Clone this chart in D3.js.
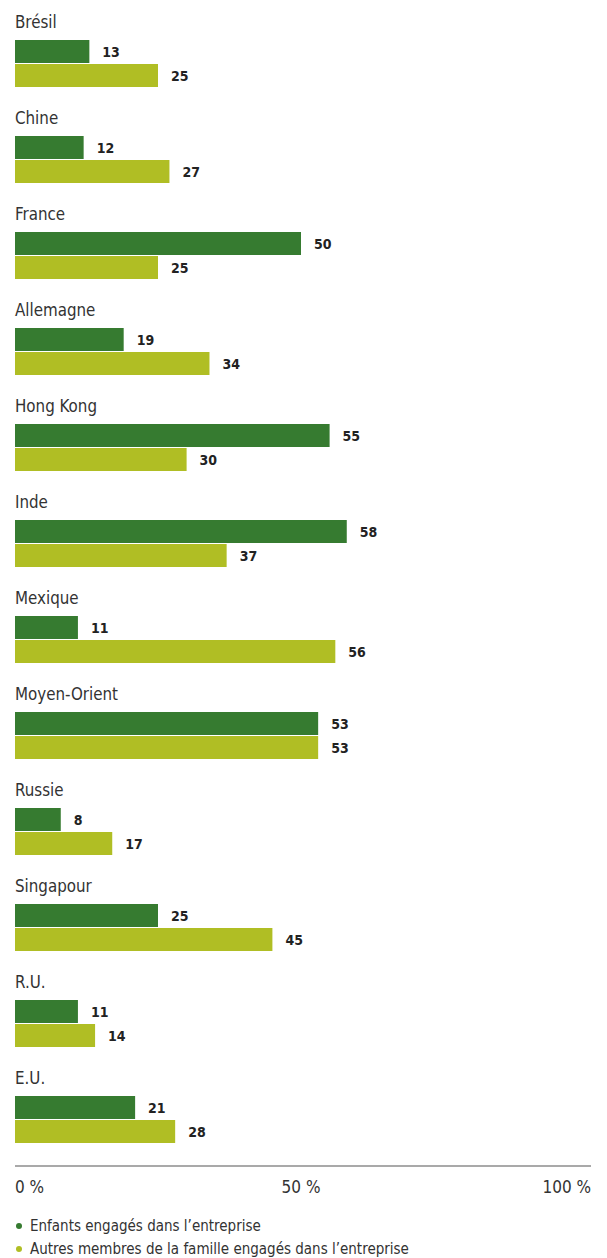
<!DOCTYPE html>
<html>
<head>
<meta charset="utf-8">
<script src="https://cdn.jsdelivr.net/npm/d3@7"></script>
<style>
  body { margin: 0; background: #fff; }
  text { font-family: "Liberation Sans Narrow", "DejaVu Sans Condensed", "Roboto", sans-serif; fill: #333; }
</style>
</head>
<body>
<div id="chart"></div>
<script>
// data
var countries = ["Brésil", "Chine", "France", "Allemagne", "Hong Kong", "Inde", "Mexique",
                 "Moyen-Orient", "Russie", "Singapour", "R.U.", "E.U."];
var enfants = [13, 12, 50, 19, 55, 58, 11, 53, 8, 25, 11, 21];
var autres  = [25, 27, 25, 34, 30, 37, 56, 53, 17, 45, 14, 28];
var seriesNames = ["Enfants engagés dans l’entreprise",
                   "Autres membres de la famille engagés dans l’entreprise"];
var tickValues = [0, 50, 100];
var colors = ["#367b30", "#b0be24"];

var width = 607, height = 1258;

var svg = d3.select("#chart")
  .append("svg")
    .attr("width", width)
    .attr("height", height);

var x = d3.scaleLinear()
  .domain([0, 100])
  .range([15, 587]);

// one band per country, step 96
var y = d3.scaleBand()
  .domain(countries)
  .range([28, 28 + 96 * countries.length])
  .paddingInner(0)
  .paddingOuter(0);

var barH = 23;

var g = svg.append("g")
  .selectAll("g")
  .data(countries)
  .enter()
  .append("g")
    .attr("transform", function (d) { return "translate(0," + y(d) + ")"; });

g.append("text")
  .attr("x", 15)
  .attr("y", 0)
  .style("font-size", "16.8px")
  .text(function (d) { return d; });

[enfants, autres].forEach(function (vals, s) {
  var top = 12 + s * (barH + 1);
  g.append("rect")
    .attr("x", x(0))
    .attr("y", top)
    .attr("width", function (d, i) { return x(vals[i]) - x(0); })
    .attr("height", barH)
    .style("fill", colors[s]);

  g.append("text")
    .attr("x", function (d, i) { return x(vals[i]) + 13; })
    .attr("y", top + barH / 2 + 5)
    .style("font-size", "14px")
    .style("font-weight", "bold")
    .style("fill", "#222")
    .text(function (d, i) { return vals[i]; });
});

// axis
var axisY = 1166;
svg.append("line")
  .attr("x1", 15).attr("x2", 591)
  .attr("y1", axisY).attr("y2", axisY)
  .style("stroke", "#555")
  .style("stroke-width", 1.2);

svg.append("g")
  .selectAll("text")
  .data(tickValues)
  .enter()
  .append("text")
    .attr("x", function (d, i) { return i === tickValues.length - 1 ? 591 : x(d); })
    .attr("y", 1193)
    .attr("text-anchor", function (d, i) { return i === 0 ? "start" : (i === tickValues.length - 1 ? "end" : "middle"); })
    .style("font-size", "17px")
    .text(function (d) { return d + " %"; });

// legend
var legend = svg.append("g")
  .selectAll("g")
  .data(seriesNames)
  .enter()
  .append("g")
    .attr("transform", function (d, i) { return "translate(0," + (1226 + i * 23) + ")"; });

legend.append("circle")
  .attr("cx", 19)
  .attr("cy", 0)
  .attr("r", 3)
  .style("fill", function (d, i) { return colors[i]; });

legend.append("text")
  .attr("x", 30)
  .attr("y", 5)
  .style("font-size", "15px")
  .text(function (d) { return d; });
</script>
</body>
</html>
